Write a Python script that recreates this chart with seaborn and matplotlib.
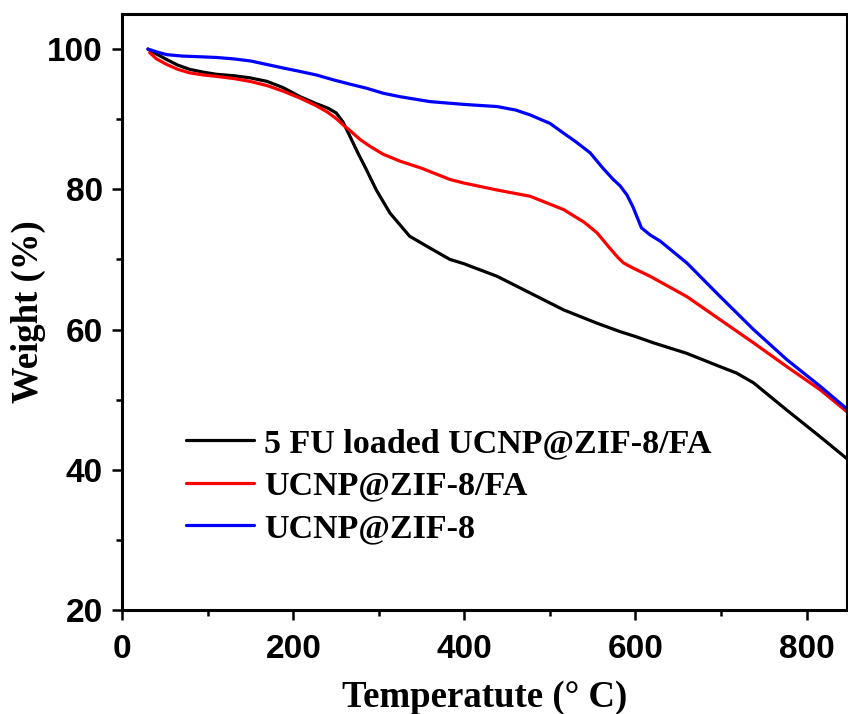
import numpy as np
import pandas as pd
import matplotlib
matplotlib.use("Agg")
import matplotlib.pyplot as plt
from matplotlib.ticker import MultipleLocator
import seaborn as sns

labels = ["5 FU loaded UCNP@ZIF-8/FA", "UCNP@ZIF-8/FA", "UCNP@ZIF-8"]
colors = ["#000000", "#ff0000", "#0000ff"]

t_black = [30, 40, 52, 65, 79, 95, 110, 130, 149, 169, 188, 208, 227, 240, 250, 258, 266, 275,
           285, 297, 313, 336, 360, 383, 399, 438, 477, 516, 555, 582, 600, 621, 660, 699, 718,
           738, 777, 816, 847]
w_black = [100, 99.3, 98.5, 97.7, 97.1, 96.7, 96.4, 96.2, 95.9, 95.4, 94.5, 93.2, 92.2, 91.6,
           90.9, 89.6, 87.6, 85.3, 82.9, 79.9, 76.6, 73.3, 71.6, 70.0, 69.4, 67.6, 65.2, 62.8,
           60.9, 59.7, 59.0, 58.1, 56.6, 54.7, 53.8, 52.4, 48.5, 44.7, 41.6]

t_red = [32, 40, 52, 65, 79, 95, 110, 130, 149, 169, 188, 208, 227, 240, 251, 258, 266, 278, 290,
         305, 325, 350, 383, 399, 438, 477, 516, 540, 555, 570, 580, 586, 595, 605, 617, 660, 699,
         738, 777, 816, 847]
w_red = [99.5, 98.6, 97.8, 97.1, 96.6, 96.3, 96.1, 95.8, 95.4, 94.8, 94.0, 93.0, 91.9, 91.0, 90.0,
         89.2, 88.4, 87.1, 86.1, 85.0, 84.0, 83.0, 81.4, 80.9, 79.9, 79.0, 77.1, 75.3, 73.8, 71.6,
         70.2, 69.5, 68.9, 68.3, 67.6, 64.7, 61.4, 58.1, 54.7, 51.4, 48.3]

t_blue = [30, 40, 52, 70, 91, 110, 130, 150, 169, 188, 208, 227, 247, 266, 286, 305, 325, 360, 400,
          438, 460, 477, 500, 516, 530, 547, 562, 574, 582, 590, 597, 602, 607, 617, 629, 660, 699,
          738, 777, 816, 847]
w_blue = [100, 99.6, 99.2, 99.0, 98.9, 98.8, 98.6, 98.3, 97.8, 97.3, 96.8, 96.3, 95.6, 95.0, 94.4,
          93.7, 93.2, 92.5, 92.1, 91.8, 91.3, 90.6, 89.4, 88.0, 86.8, 85.2, 83.0, 81.4, 80.5, 79.2,
          77.5, 76.0, 74.5, 73.5, 72.6, 69.5, 64.7, 60.0, 55.7, 51.9, 48.7]

df = pd.concat([
    pd.DataFrame({"T": t_black, "W": w_black, "sample": labels[0]}),
    pd.DataFrame({"T": t_red, "W": w_red, "sample": labels[1]}),
    pd.DataFrame({"T": t_blue, "W": w_blue, "sample": labels[2]}),
], ignore_index=True)

sns.set_style("ticks")
plt.rcParams["font.family"] = ["Liberation Sans", "DejaVu Sans"]
plt.rcParams["text.color"] = "black"
plt.rcParams["axes.labelcolor"] = "black"
plt.rcParams["xtick.color"] = "black"
plt.rcParams["ytick.color"] = "black"

fig = plt.figure(figsize=(8.48, 7.14), dpi=100)
ax = fig.add_axes([0.1442, 0.1457, 0.8543, 0.8347])

sns.lineplot(data=df, x="T", y="W", hue="sample", hue_order=labels,
             palette=dict(zip(labels, colors)), sort=False, estimator=None,
             linewidth=2.3, ax=ax)

ax.set_xlim(0, 847)
ax.set_ylim(20, 105)
ax.xaxis.set_major_locator(MultipleLocator(200))
ax.xaxis.set_minor_locator(MultipleLocator(100))
ax.yaxis.set_major_locator(MultipleLocator(20))
ax.yaxis.set_minor_locator(MultipleLocator(10))
ax.set_yticks([20, 40, 60, 80, 100])

for s in ax.spines.values():
    s.set_visible(True)
    s.set_linewidth(2.2)
    s.set_color("black")

ax.tick_params(which="major", direction="out", length=7, width=1.8, colors="black",
               labelsize=24)
ax.tick_params(axis="x", which="major", pad=10)
ax.tick_params(axis="y", which="major", pad=7)
ax.tick_params(which="minor", direction="out", length=4.5, width=1.8, colors="black")
for lab in ax.get_xticklabels() + ax.get_yticklabels():
    lab.set_fontweight("bold")

ax.set_xlabel("Temperatute (° C)", fontsize=26.5, fontweight="bold", color="black",
              family=["Liberation Serif", "DejaVu Serif"], labelpad=11)
ax.set_ylabel("Weight (%)", fontsize=26.5, fontweight="bold", color="black",
              family=["Liberation Serif", "DejaVu Serif"], labelpad=1)

leg = ax.legend(loc="upper left", bbox_to_anchor=(0.088, 0.305), frameon=False,
                prop={"family": ["Liberation Serif", "DejaVu Serif"], "weight": "bold", "size": 24.5},
                handlelength=2.0, handletextpad=0.3, labelspacing=0.34,
                borderpad=0, borderaxespad=0)
for line in leg.get_lines():
    line.set_linewidth(2.3)
for txt in leg.get_texts():
    txt.set_color("black")

fig.savefig("out.png", dpi=100)
